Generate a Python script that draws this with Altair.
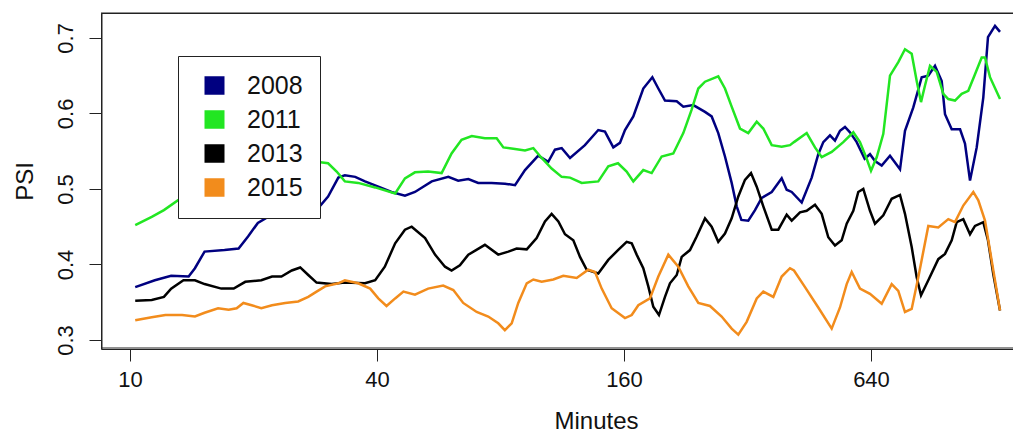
import altair as alt
import pandas as pd

years = ["2008", "2011", "2013", "2015"]
colors = ["#000080", "#22e622", "#000000", "#f28c1c"]

x_ticks = [10, 40, 160, 640]
y_ticks = [0.3, 0.4, 0.5, 0.6, 0.7]

minutes_2008 = [10.3, 11.5, 12.6, 13.9, 14.4, 15.2, 17.0, 18.4, 19.4, 20.5, 21.7, 25.2, 28.5, 30.4, 32.2,
                33.4, 35.4, 37.4, 40.3, 43.4, 46.8, 49.5, 54.4, 59.7, 63.1, 66.8, 70.6, 76.1, 82.0, 86.8,
                91.8, 98.9, 104.6, 108.6, 112.8, 118.2, 128.5, 138.5, 143.8, 150.7, 156.4, 160.9, 168.6,
                178.3, 187.6, 194.0, 201.4, 215.1, 223.2, 236.1, 252.1, 261.7, 271.6, 282.0, 292.8, 301.2,
                309.2, 321.4, 333.8, 346.6, 366.6, 387.7, 398.7, 410.1, 433.8, 458.8, 476.1, 489.7, 508.4,
                522.9, 537.8, 553.1, 568.8, 590.6, 617.7, 636.4, 654.5, 679.6, 712.0, 753.2, 774.5, 811.5,
                850.7, 882.8, 916.6, 951.7, 969.5, 1006.7, 1055.0, 1084.6, 1115.6, 1158.3, 1201.9, 1234.0,
                1283.6, 1320.2]
psi_2008 = [0.370, 0.379, 0.385, 0.384, 0.395, 0.417, 0.419, 0.421, 0.437, 0.455, 0.463, 0.470, 0.472, 0.490,
            0.515, 0.518, 0.516, 0.510, 0.503, 0.496, 0.491, 0.496, 0.510, 0.516, 0.511, 0.513, 0.508, 0.508,
            0.507, 0.505, 0.525, 0.544, 0.536, 0.552, 0.554, 0.541, 0.558, 0.578, 0.576, 0.555, 0.561, 0.578,
            0.596, 0.633, 0.648, 0.633, 0.617, 0.616, 0.609, 0.611, 0.602, 0.596, 0.574, 0.543, 0.508, 0.477,
            0.459, 0.458, 0.472, 0.488, 0.496, 0.514, 0.499, 0.496, 0.482, 0.515, 0.546, 0.562, 0.571, 0.564,
            0.577, 0.582, 0.575, 0.562, 0.540, 0.546, 0.537, 0.531, 0.544, 0.526, 0.577, 0.608, 0.648, 0.650,
            0.663, 0.643, 0.599, 0.579, 0.579, 0.560, 0.511, 0.555, 0.621, 0.701, 0.716, 0.708]

minutes_2011 = [10.3, 11.3, 12.1, 13.1, 15.7, 19.6, 24.5, 28.5, 30.4, 31.9, 33.4, 36.0, 39.6, 44.3, 46.8,
                49.5, 53.3, 57.5, 60.8, 64.3, 68.1, 73.3, 78.3, 81.3, 86.8, 91.8, 96.2, 100.8, 106.6, 112.8,
                118.2, 126.2, 138.5, 146.5, 154.7, 162.4, 168.6, 178.3, 186.9, 197.7, 211.0, 223.2, 233.9,
                242.8, 252.1, 271.6, 282.0, 292.8, 306.8, 321.4, 337.0, 349.7, 366.6, 387.7, 406.2, 415.4,
                446.1, 467.4, 485.3, 513.3, 547.8, 579.5, 601.6, 624.7, 640.0, 660.8, 685.8, 712.0, 746.0,
                774.5, 804.2, 827.1, 847.4, 866.6, 891.3, 925.4, 960.3, 987.6, 1025.4, 1064.7, 1104.9,
                1147.3, 1191.2, 1213.5, 1248.1, 1320.2]
psi_2011 = [0.452, 0.463, 0.472, 0.485, 0.496, 0.509, 0.525, 0.536, 0.534, 0.523, 0.510, 0.508, 0.502, 0.494,
            0.514, 0.522, 0.523, 0.521, 0.547, 0.565, 0.570, 0.567, 0.567, 0.555, 0.553, 0.551, 0.554, 0.541,
            0.527, 0.516, 0.515, 0.508, 0.510, 0.530, 0.534, 0.523, 0.510, 0.525, 0.521, 0.543, 0.547, 0.574,
            0.605, 0.633, 0.642, 0.649, 0.633, 0.609, 0.580, 0.574, 0.589, 0.580, 0.558, 0.556, 0.558, 0.562,
            0.574, 0.555, 0.542, 0.549, 0.562, 0.575, 0.562, 0.540, 0.524, 0.542, 0.573, 0.650, 0.668, 0.685,
            0.679, 0.643, 0.615, 0.637, 0.663, 0.655, 0.626, 0.619, 0.617, 0.626, 0.630, 0.652, 0.674, 0.674,
            0.648, 0.619]

minutes_2013 = [10.3, 11.3, 12.1, 12.6, 13.5, 14.4, 15.2, 16.7, 17.9, 19.1, 20.9, 22.2, 23.4, 24.8, 26.0,
                27.2, 28.5, 31.0, 33.4, 37.4, 39.6, 41.8, 44.3, 46.8, 48.6, 52.4, 55.4, 58.6, 60.8, 63.7,
                66.8, 73.3, 79.0, 83.6, 87.6, 92.7, 98.0, 102.7, 106.6, 110.7, 114.9, 120.4, 125.0, 129.8,
                138.5, 146.5, 154.7, 162.4, 167.1, 171.8, 178.3, 183.4, 188.6, 194.7, 201.4, 207.1, 215.1,
                221.2, 231.7, 240.6, 252.1, 261.7, 271.6, 282.0, 292.8, 303.9, 315.5, 326.4, 337.0, 349.7,
                366.6, 380.4, 398.7, 410.1, 429.6, 446.1, 467.4, 485.3, 503.6, 522.9, 542.9, 558.4, 579.5,
                595.9, 612.9, 636.4, 654.5, 685.8, 718.8, 753.2, 774.5, 804.2, 827.1, 847.4, 882.8, 933.7,
                969.5, 1006.7, 1035.3, 1074.3, 1115.6, 1147.3, 1201.9, 1234.0, 1271.4, 1320.2]
psi_2013 = [0.352, 0.353, 0.357, 0.368, 0.379, 0.379, 0.374, 0.368, 0.368, 0.377, 0.379, 0.384, 0.384, 0.392,
            0.396, 0.386, 0.376, 0.374, 0.376, 0.375, 0.379, 0.397, 0.428, 0.446, 0.450, 0.435, 0.413, 0.397,
            0.392, 0.399, 0.413, 0.426, 0.413, 0.417, 0.421, 0.420, 0.435, 0.457, 0.467, 0.457, 0.440, 0.432,
            0.410, 0.393, 0.388, 0.406, 0.419, 0.430, 0.428, 0.413, 0.395, 0.371, 0.344, 0.333, 0.357, 0.375,
            0.386, 0.410, 0.419, 0.437, 0.461, 0.450, 0.430, 0.441, 0.461, 0.490, 0.512, 0.521, 0.503, 0.477,
            0.446, 0.446, 0.466, 0.458, 0.469, 0.471, 0.479, 0.467, 0.436, 0.425, 0.432, 0.454, 0.471, 0.496,
            0.500, 0.471, 0.454, 0.465, 0.487, 0.492, 0.467, 0.423, 0.383, 0.359, 0.379, 0.407, 0.414, 0.432,
            0.456, 0.460, 0.440, 0.451, 0.456, 0.432, 0.387, 0.339]

minutes_2015 = [10.3, 11.3, 12.2, 13.4, 14.4, 15.2, 16.4, 17.4, 18.2, 18.9, 19.8, 20.9, 22.2, 23.9, 25.7,
                27.2, 28.5, 29.9, 32.2, 33.4, 36.0, 38.5, 40.3, 42.2, 44.3, 46.4, 49.5, 53.3, 58.0, 61.4,
                64.9, 70.0, 74.7, 79.0, 82.0, 85.2, 88.4, 92.7, 96.2, 100.8, 107.6, 113.8, 122.7, 130.9,
                136.0, 141.2, 149.3, 160.9, 167.1, 173.4, 185.1, 194.0, 205.2, 217.0, 229.5, 242.8, 259.2,
                276.8, 292.8, 303.9, 318.5, 337.0, 349.7, 369.9, 387.7, 406.2, 415.4, 441.9, 476.1, 513.3,
                537.8, 558.4, 574.3, 601.6, 636.4, 679.6, 718.8, 746.0, 774.5, 804.2, 834.6, 882.8, 933.7,
                987.6, 1025.4, 1074.3, 1136.4, 1168.8, 1213.5, 1260.0, 1320.2]
psi_2015 = [0.326, 0.330, 0.333, 0.333, 0.331, 0.336, 0.342, 0.340, 0.342, 0.349, 0.346, 0.342, 0.346, 0.349,
            0.351, 0.357, 0.364, 0.371, 0.375, 0.379, 0.375, 0.368, 0.355, 0.345, 0.355, 0.364, 0.360, 0.368,
            0.372, 0.366, 0.349, 0.337, 0.331, 0.322, 0.313, 0.322, 0.349, 0.375, 0.380, 0.377, 0.380, 0.385,
            0.382, 0.393, 0.390, 0.368, 0.342, 0.329, 0.333, 0.346, 0.355, 0.384, 0.413, 0.397, 0.371, 0.349,
            0.345, 0.331, 0.315, 0.307, 0.324, 0.355, 0.364, 0.357, 0.384, 0.395, 0.392, 0.370, 0.343, 0.315,
            0.343, 0.374, 0.390, 0.368, 0.361, 0.348, 0.374, 0.365, 0.337, 0.341, 0.383, 0.451, 0.449, 0.460,
            0.456, 0.478, 0.496, 0.485, 0.458, 0.405, 0.339]

series_minutes = [minutes_2008, minutes_2011, minutes_2013, minutes_2015]
series_psi = [psi_2008, psi_2011, psi_2013, psi_2015]

frames = []
for yr, mins, vals in zip(years, series_minutes, series_psi):
    frames.append(pd.DataFrame({"Minutes": mins, "PSI": vals, "Year": yr, "idx": list(range(len(mins)))}))
df = pd.concat(frames, ignore_index=True)

W, H = 912, 336
FONT = "Liberation Sans"
AX = "#222222"

# solid-looking legend swatch for a line legend: closely spaced horizontal strokes
SWATCH = ("M-1,-0.8H1M-1,-0.6H1M-1,-0.4H1M-1,-0.2H1M-1,0H1"
          "M-1,0.2H1M-1,0.4H1M-1,0.6H1M-1,0.8H1")

x_enc = alt.X("Minutes:Q",
              scale=alt.Scale(type="log", base=2, domain=[8.5, 1420], nice=False),
              axis=alt.Axis(values=x_ticks, format="d", grid=False, domain=False,
                            tickSize=12, tickColor=AX, zindex=2,
                            labelFont=FONT, labelFontSize=22, labelColor="#111111",
                            labelPadding=8, labelFlush=False, labelOverlap=False,
                            title="Minutes", titleFont=FONT, titleFontSize=24, titleFontWeight="normal",
                            titleColor="#111111", titleX=495, titleY=79, titleAlign="center",
                            titleBaseline="alphabetic"))
y_enc = alt.Y("PSI:Q",
              scale=alt.Scale(domain=[0.288, 0.733], nice=False, zero=False),
              axis=alt.Axis(values=y_ticks, format=".1f", grid=False, domain=False,
                            tickSize=12, tickColor=AX, zindex=2,
                            labelFont=FONT, labelFontSize=22, labelColor="#111111",
                            labelAngle=270, labelAlign="center", labelBaseline="alphabetic",
                            labelPadding=17, labelOverlap=False, labelFlush=False,
                            title="PSI", titleFont=FONT, titleFontSize=24, titleFontWeight="normal",
                            titleColor="#111111", titleAngle=270, titleX=-69, titleY=168,
                            titleAlign="center", titleBaseline="alphabetic"))

lines = alt.Chart(df).mark_line(strokeWidth=2.5).encode(
    x=x_enc,
    y=y_enc,
    color=alt.Color("Year:N", scale=alt.Scale(domain=years, range=colors),
                    legend=alt.Legend(title=None, orient="none", legendX=77, legendY=43,
                                      direction="vertical", symbolType=SWATCH, symbolSize=400,
                                      symbolStrokeWidth=2.4, symbolOffset=7, labelOffset=20,
                                      labelFont=FONT, labelFontSize=25, labelColor="#111111",
                                      rowPadding=7, padding=17, strokeColor="#222222",
                                      fillColor="white", cornerRadius=0, symbolOpacity=1,
                                      zindex=3)),
    order="idx:Q",
)

one = pd.DataFrame({"k": [0]})
frame_top = alt.Chart(one).mark_rule(color=AX, strokeWidth=1).encode(
    x=alt.value(0), x2=alt.value(W), y=alt.value(0)
)
frame_left = alt.Chart(one).mark_rule(color=AX, strokeWidth=1).encode(
    x=alt.value(1), y=alt.value(0), y2=alt.value(H)
)
frame_bottom = alt.Chart(one).mark_rule(color=AX, strokeWidth=1).encode(
    x=alt.value(0), x2=alt.value(W), y=alt.value(H - 1)
)

chart = alt.layer(lines, frame_top, frame_left, frame_bottom).properties(
    width=W, height=H,
    autosize=alt.AutoSizeParams(type="none"),
    padding={"left": 93, "top": 5, "right": 0, "bottom": 83},
).configure(font=FONT).configure_view(stroke=AX, strokeWidth=1)

chart.save("out.html", embed_options={"renderer": "svg", "actions": False})
